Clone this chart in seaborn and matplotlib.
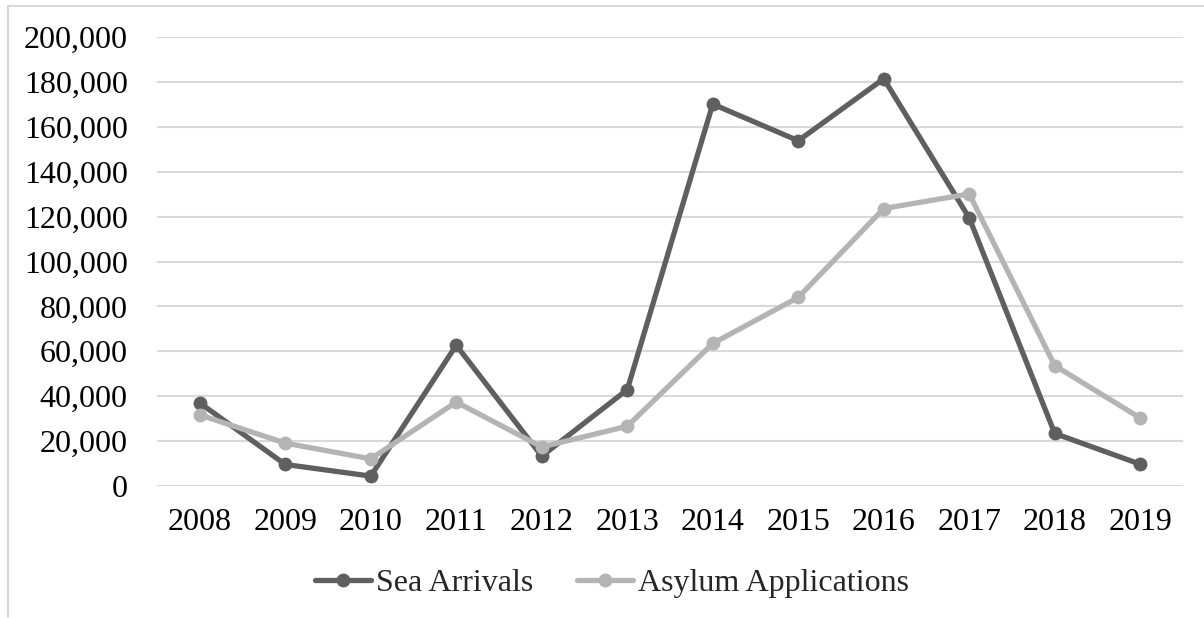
import matplotlib
matplotlib.use("Agg")
import matplotlib.pyplot as plt
from matplotlib.lines import Line2D
from matplotlib.ticker import FuncFormatter
import pandas as pd
import seaborn as sns

years = ["2008", "2009", "2010", "2011", "2012", "2013",
         "2014", "2015", "2016", "2017", "2018", "2019"]
sea_arrivals = [37000, 9600, 4400, 62700, 13300, 42900,
                170100, 153800, 181400, 119400, 23400, 9700]
asylum_applications = [31700, 19100, 12100, 37400, 17400, 26600,
                       63500, 84000, 123600, 130100, 53600, 30300]
series_names = ["Sea Arrivals", "Asylum Applications"]
series_colors = ["#5f5f5f", "#b4b4b4"]
y_ticks = list(range(0, 200001, 20000))

df = pd.DataFrame({"Year": years,
                   series_names[0]: sea_arrivals,
                   series_names[1]: asylum_applications})
long_df = df.melt(id_vars="Year", var_name="Series", value_name="Count")

sns.set_theme(style="white")
plt.rcParams["font.family"] = ["Liberation Serif", "DejaVu Serif"]

FS = 23
LW = 3.8
MS = 10

fig = plt.figure(figsize=(12.04, 6.18), dpi=100)
ax = fig.add_axes([157 / 1204, 1 - 486 / 618, (1183 - 157) / 1204, (486 - 37) / 618])

sns.lineplot(data=long_df, x="Year", y="Count", hue="Series",
             hue_order=series_names, palette=series_colors,
             marker="o", markersize=MS, markeredgewidth=0,
             linewidth=LW, sort=False, ax=ax, legend=False)

ax.set_xlim(-0.5, len(years) - 0.5)
ax.set_ylim(0, 200000)
ax.set_yticks(y_ticks)
ax.yaxis.set_major_formatter(FuncFormatter(lambda v, p: f"{int(v):,}"))
ax.grid(axis="y", color="#d9d9d9", linewidth=1.5)
ax.grid(axis="x", visible=False)
ax.set_axisbelow(True)
for s in ax.spines.values():
    s.set_visible(False)
ax.set_xlabel("")
ax.set_ylabel("")
ax.tick_params(axis="y", length=0, pad=21, labelsize=FS, labelcolor="black")
ax.tick_params(axis="x", length=0, pad=16, labelsize=FS, labelcolor="black")

handles = [Line2D([], [], color=c, linewidth=LW, marker="o", markersize=MS,
                  markeredgewidth=0) for c in series_colors]
fig.legend(handles, series_names, loc="center", bbox_to_anchor=(612 / 1204, 1 - 583 / 618),
           ncol=2, frameon=False, fontsize=FS, handlelength=1.75,
           handletextpad=0.13, columnspacing=1.4, borderpad=0)

# outer chart frame (left and top edges)
fig.add_artist(Line2D([7.5 / 1204, 7.5 / 1204], [1 - 617 / 618, 1 - 6 / 618],
                      transform=fig.transFigure, color="#d9d9d9", linewidth=1.5))
fig.add_artist(Line2D([7.5 / 1204, 1.0], [1 - 6 / 618, 1 - 6 / 618],
                      transform=fig.transFigure, color="#d9d9d9", linewidth=1.5))

fig.savefig("out.png", dpi=100, facecolor="white")
